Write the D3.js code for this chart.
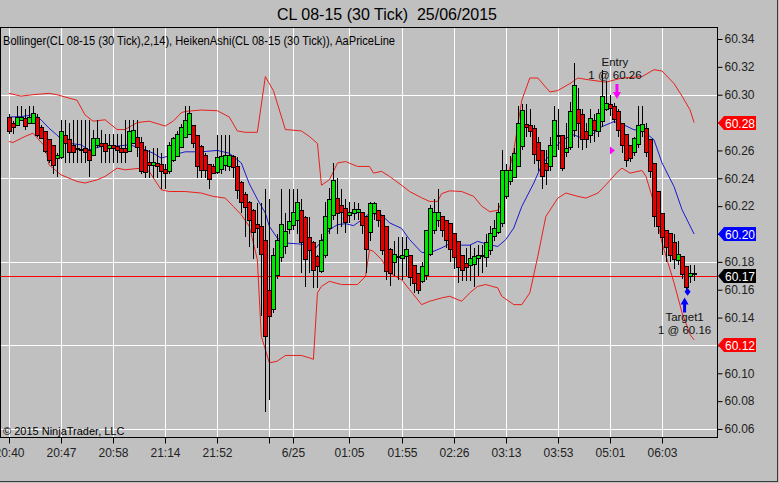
<!DOCTYPE html>
<html><head><meta charset="utf-8">
<script src="https://d3js.org/d3.v7.min.js"></script>
<style>
html,body{margin:0;padding:0;background:#c0c0c0;}
svg{display:block;}
text{font-family:"Liberation Sans Narrow","Arial Narrow","Liberation Sans",Arial,sans-serif;}
</style></head><body>
<svg id="chart" width="779" height="483"></svg>
<script>
// ---------- DATA ----------
const chartTitle = "CL 08-15 (30 Tick)  25/06/2015";
const indicatorLabel = "Bollinger(CL 08-15 (30 Tick),2,14), HeikenAshi(CL 08-15 (30 Tick)), AaPriceLine";
const copyright = "\u00A9 2015 NinjaTrader, LLC";

const barOpen = [
60.284,60.280,60.278,60.282,60.283,60.280,60.280,60.284,60.277,60.274,
60.268,60.264,60.255,60.255,60.271,60.268,60.264,60.262,60.261,60.262,
60.260,60.257,60.264,60.265,60.265,60.262,60.264,60.263,60.262,60.262,
60.260,60.266,60.270,60.266,60.260,60.252,60.250,60.251,60.250,60.247,
60.245,60.253,60.256,60.263,60.270,60.272,60.278,60.271,60.263,60.257,
60.250,60.249,60.244,60.247,60.250,60.249,60.256,60.249,60.237,60.229,
60.223,60.217,60.207,60.206,60.196,60.160,60.146,60.171,60.183,60.191,
60.203,60.207,60.210,60.217,60.212,60.198,60.194,60.184,60.174,60.185,
60.204,60.214,60.226,60.221,60.219,60.214,60.215,60.216,60.216,60.213,
60.201,60.215,60.217,60.214,60.206,60.189,60.180,60.184,60.183,60.184,
60.185,60.178,60.172,60.166,60.171,60.186,60.203,60.210,60.213,60.210,
60.208,60.201,60.195,60.185,60.179,60.178,60.178,60.183,60.184,60.183,
60.189,60.198,60.202,60.208,60.227,60.238,60.241,60.249,60.263,60.279,
60.278,60.276,60.266,60.260,60.251,60.249,60.256,60.270,60.271,60.259,
60.262,60.275,60.290,60.286,60.274,60.271,60.282,60.274,60.281,60.290,
60.293,60.292,60.288,60.280,60.272,60.264,60.259,60.264,60.274,60.276,
60.268,60.251,60.231,60.215,60.203,60.201,60.194,60.182,60.184,60.177,
60.170,60.171];
const barClose = [
60.274,60.277,60.284,60.284,60.277,60.284,60.287,60.271,60.269,60.260,
60.253,60.250,60.257,60.274,60.265,60.259,60.259,60.261,60.260,60.259,
60.253,60.269,60.269,60.263,60.259,60.264,60.262,60.260,60.259,60.259,
60.274,60.275,60.263,60.245,60.244,60.250,60.252,60.249,60.245,60.244,
60.264,60.269,60.272,60.277,60.282,60.287,60.265,60.249,60.246,60.246,
60.239,60.244,60.255,60.256,60.257,60.257,60.248,60.232,60.223,60.220,
60.210,60.201,60.204,60.186,60.127,60.141,60.185,60.196,60.207,60.202,
60.209,60.216,60.223,60.194,60.182,60.189,60.174,60.177,60.196,60.213,
60.225,60.239,60.215,60.216,60.209,60.216,60.218,60.218,60.207,60.189,
60.222,60.222,60.210,60.189,60.174,60.172,60.186,60.183,60.185,60.189,
60.169,60.165,60.160,60.177,60.203,60.219,60.216,60.216,60.203,60.196,
60.189,60.184,60.176,60.174,60.176,60.183,60.184,60.185,60.185,60.194,
60.201,60.204,60.216,60.246,60.246,60.246,60.258,60.280,60.289,60.277,
60.274,60.257,60.253,60.241,60.246,60.264,60.282,60.271,60.247,60.262,
60.288,60.307,60.280,60.268,60.268,60.283,60.275,60.287,60.299,60.294,
60.290,60.283,60.274,60.264,60.253,60.255,60.269,60.278,60.279,60.259,
60.245,60.213,60.206,60.198,60.191,60.185,60.182,60.186,60.171,60.162,
60.172,60.172];
const barHigh = [
60.286,60.281,60.292,60.292,60.290,60.292,60.292,60.286,60.278,60.274,
60.268,60.264,60.258,60.282,60.282,60.280,60.282,60.282,60.282,60.282,
60.282,60.275,60.282,60.275,60.272,60.272,60.272,60.272,60.272,60.282,
60.282,60.282,60.282,60.270,60.263,60.260,60.262,60.262,60.258,60.250,
60.266,60.270,60.274,60.279,60.292,60.292,60.278,60.271,60.264,60.258,
60.250,60.250,60.271,60.271,60.271,60.271,60.257,60.255,60.238,60.230,
60.224,60.218,60.222,60.222,60.232,60.225,60.190,60.200,60.232,60.215,
60.232,60.232,60.232,60.225,60.213,60.212,60.195,60.185,60.200,60.223,
60.233,60.251,60.240,60.232,60.225,60.223,60.223,60.222,60.216,60.213,
60.223,60.223,60.217,60.214,60.206,60.190,60.195,60.198,60.198,60.198,
60.185,60.178,60.172,60.180,60.203,60.221,60.225,60.232,60.213,60.210,
60.208,60.201,60.195,60.185,60.190,60.192,60.190,60.192,60.192,60.200,
60.206,60.210,60.222,60.260,60.250,60.256,60.262,60.292,60.293,60.293,
60.290,60.278,60.270,60.260,60.260,60.270,60.292,60.290,60.271,60.280,
60.295,60.323,60.305,60.290,60.280,60.290,60.286,60.290,60.318,60.310,
60.300,60.294,60.290,60.280,60.272,60.264,60.270,60.292,60.292,60.280,
60.268,60.251,60.231,60.215,60.203,60.201,60.200,60.195,60.184,60.177,
60.178,60.178];
const barLow = [
60.272,60.272,60.278,60.281,60.275,60.279,60.280,60.270,60.268,60.258,
60.251,60.243,60.241,60.254,60.251,60.251,60.251,60.251,60.251,60.251,
60.241,60.256,60.262,60.251,60.251,60.251,60.251,60.251,60.251,60.251,
60.259,60.265,60.255,60.243,60.240,60.240,60.240,60.240,60.232,60.232,
60.243,60.252,60.255,60.262,60.269,60.272,60.262,60.240,60.240,60.240,
60.232,60.243,60.243,60.243,60.245,60.245,60.240,60.225,60.215,60.198,
60.191,60.182,60.190,60.141,60.072,60.081,60.143,60.168,60.180,60.186,
60.200,60.203,60.200,60.172,60.162,60.172,60.161,60.161,60.172,60.183,
60.200,60.210,60.200,60.205,60.201,60.208,60.210,60.210,60.200,60.172,
60.195,60.210,60.205,60.185,60.167,60.163,60.170,60.167,60.167,60.170,
60.163,60.158,60.157,60.165,60.167,60.184,60.200,60.205,60.198,60.190,
60.180,60.175,60.165,60.166,60.166,60.166,60.162,60.170,60.172,60.176,
60.185,60.195,60.200,60.205,60.225,60.235,60.240,60.249,60.260,60.270,
60.270,60.250,60.245,60.232,60.235,60.245,60.255,60.260,60.245,60.255,
60.260,60.270,60.262,60.260,60.262,60.265,60.266,60.270,60.277,60.288,
60.285,60.280,60.270,60.258,60.248,60.252,60.256,60.262,60.270,60.255,
60.240,60.205,60.200,60.185,60.180,60.180,60.175,60.178,60.168,60.158,
60.165,60.166];

// Bollinger band vertices: [bar index, price]
const bbUpper = [[0,60.301],[3,60.299],[6,60.300],[10,60.301],[12,60.300],[17,60.296],[19,60.2855],[21,60.281],[24,60.282],[27,60.275],[29,60.275],[32,60.280],[35,60.281],[39,60.2775],[41,60.281],[43,60.287],[44,60.288],[48,60.289],[52,60.2885],[55,60.284],[57,60.274],[59,60.273],[62,60.273],[64,60.313],[66,60.303],[69,60.275],[73,60.274],[75,60.270],[77,60.265],[78,60.235],[80,60.239],[82,60.251],[84,60.252],[87,60.2485],[90,60.2485],[91,60.2437],[93,60.245],[95,60.2413],[98,60.235],[100,60.2305],[103,60.226],[105,60.2234],[107,60.2234],[108,60.229],[110,60.231],[113,60.2305],[116,60.227],[118,60.220],[120,60.216],[122,60.217],[123,60.223],[126,60.260],[128,60.296],[130,60.312],[132,60.312],[135,60.302],[137,60.303],[140,60.308],[142,60.312],[144,60.311],[149,60.309],[153,60.312],[158,60.313],[161,60.318],[163,60.317],[166,60.308],[168,60.299],[170,60.289],[171,60.280]];
const bbMiddle = [[0,60.284],[3,60.2843],[6,60.2855],[8,60.282],[10,60.276],[12,60.271],[14,60.2655],[18,60.264],[20,60.2604],[23,60.2628],[26,60.2628],[30,60.264],[33,60.2617],[36,60.258],[38,60.2545],[41,60.2568],[44,60.259],[48,60.259],[52,60.260],[55,60.258],[58,60.251],[60,60.236],[62,60.225],[64,60.215],[65,60.2055],[67,60.197],[69,60.1935],[72,60.193],[75,60.192],[76,60.188],[78,60.1947],[80,60.203],[82,60.2067],[84,60.2074],[86,60.206],[88,60.210],[90,60.215],[93,60.2138],[95,60.208],[98,60.204],[100,60.196],[103,60.1868],[105,60.1864],[108,60.190],[110,60.193],[113,60.192],[115,60.192],[117,60.1947],[119,60.193],[122,60.191],[124,60.196],[126,60.2043],[128,60.2198],[131,60.2366],[133,60.2497],[136,60.2604],[138,60.2676],[141,60.2712],[143,60.2688],[146,60.2724],[148,60.2771],[151,60.2807],[153,60.279],[156,60.2748],[158,60.2748],[161,60.2676],[163,60.251],[166,60.234],[168,60.2174],[171,60.200]];
const bbLower = [[0,60.2664],[1,60.2657],[4,60.270],[6,60.2724],[9,60.2628],[10,60.2497],[13,60.2425],[17,60.2377],[19,60.2366],[22,60.2389],[24,60.2413],[27,60.2473],[29,60.2461],[33,60.2473],[35,60.2449],[38,60.2318],[40,60.2305],[44,60.2305],[48,60.2294],[51,60.227],[54,60.2258],[56,60.2198],[58,60.2138],[60,60.2055],[62,60.1816],[63,60.1266],[65,60.1075],[67,60.1087],[69,60.1128],[73,60.1128],[75,60.1111],[76,60.110],[77,60.1577],[78,60.1624],[80,60.166],[83,60.1637],[87,60.1637],[89,60.1696],[90,60.1887],[91,60.1875],[93,60.1816],[95,60.172],[98,60.1672],[100,60.1601],[103,60.1493],[105,60.1517],[108,60.1541],[110,60.1553],[113,60.1517],[115,60.1577],[117,60.1624],[119,60.1637],[122,60.1613],[123,60.1553],[126,60.1493],[128,60.1493],[130,60.1577],[132,60.184],[134,60.2126],[137,60.2258],[139,60.2294],[142,60.227],[144,60.2258],[147,60.2294],[149,60.2353],[152,60.2449],[153,60.2473],[155,60.2437],[158,60.2456],[159,60.2413],[161,60.2222],[163,60.1935],[166,60.1649],[168,60.1434],[170,60.1278],[171,60.124]];

const priceLineValue = 60.17;
const yTicks = [60.06,60.08,60.10,60.12,60.14,60.16,60.18,60.20,60.22,60.24,60.26,60.28,60.30,60.32,60.34];
const yGrid = [60.06,60.12,60.18,60.24,60.30];
const xTickBars = [0,13,26,39,52,65,71,85,98,111,124,137,150,163];
const xTickLabels = ["20:40","20:47","20:58","21:14","21:52","","6/25","01:05","01:55","02:26","03:13","03:53","05:01","06:03"];
const tagValues = [60.28, 60.20, 60.17, 60.12];
const tagKinds = ["upper","middle","price","lower"];

const entryBar = 151, entryPrice = 60.26, entryText = ["Entry","1 @ 60.26"];
const targetBar = 169, targetPrice = 60.16, targetText = ["Target1","1 @ 60.16"];

// ---------- LAYOUT ----------
const W = 779, H = 483;
const plot = {left:0, right:717, top:27, bottom:437};
const svg = d3.select("#chart");

const x = d3.scaleLinear().domain([0, 171]).range([8.9, 8.9 + 171*4.007]);
const y = d3.scaleLinear().domain([60.06, 60.34]).range([429, 39]);

svg.append("rect").attr("width",W).attr("height",H).attr("fill","#c0c0c0");

// title
svg.append("text").attr("x",387).attr("y",20).attr("text-anchor","middle")
  .style("white-space","pre").attr("font-size",17).attr("fill","#000")
  .attr("textLength",220).attr("lengthAdjust","spacingAndGlyphs")
  .text(chartTitle);

const clipId = "plotclip";
svg.append("clipPath").attr("id",clipId).append("rect")
  .attr("x",plot.left+1).attr("y",plot.top+1).attr("width",plot.right-plot.left-1).attr("height",plot.bottom-plot.top-1);
const g = svg.append("g").attr("clip-path",`url(#${clipId})`);

// grid
g.selectAll("line.hg").data(yGrid).join("line")
  .attr("x1",plot.left).attr("x2",plot.right)
  .attr("y1",d=>Math.round(y(d))+0.5).attr("y2",d=>Math.round(y(d))+0.5)
  .attr("stroke","#ffffff").attr("stroke-width",1);
g.selectAll("line.vg").data(xTickBars).join("line")
  .attr("x1",d=>Math.round(x(d))+0.5).attr("x2",d=>Math.round(x(d))+0.5)
  .attr("y1",plot.top).attr("y2",plot.bottom)
  .attr("stroke","#ffffff").attr("stroke-width",1);

// bands
const bandLine = d3.line().x(d=>x(d[0])).y(d=>y(d[1]));
g.append("path").attr("d",bandLine(bbUpper)).attr("fill","none").attr("stroke","#e8201c").attr("stroke-width",1);
g.append("path").attr("d",bandLine(bbLower)).attr("fill","none").attr("stroke","#e8201c").attr("stroke-width",1);
g.append("path").attr("d",bandLine(bbMiddle)).attr("fill","none").attr("stroke","#1a1ad0").attr("stroke-width",1);

// price line
g.append("line").attr("x1",plot.left).attr("x2",plot.right)
  .attr("y1",Math.round(y(priceLineValue))+0.5).attr("y2",Math.round(y(priceLineValue))+0.5)
  .attr("stroke","#ff0000").attr("stroke-width",1);

// candles
const bars = d3.range(barOpen.length).map(i=>({i,o:barOpen[i],c:barClose[i],h:barHigh[i],l:barLow[i]}));
const cg = g.append("g").attr("shape-rendering","crispEdges");
cg.selectAll("line.wick").data(bars).join("line")
  .attr("x1",d=>Math.round(x(d.i))+0.5).attr("x2",d=>Math.round(x(d.i))+0.5)
  .attr("y1",d=>y(d.h)).attr("y2",d=>y(d.l))
  .attr("stroke","#000").attr("stroke-width",1);
cg.selectAll("rect.body").data(bars).join("rect")
  .attr("x",d=>Math.round(x(d.i))-1.5)
  .attr("width",4)
  .attr("y",d=>Math.round(y(Math.max(d.o,d.c)))+0.5)
  .attr("height",d=>Math.max(1, Math.round(Math.abs(y(d.o)-y(d.c)))))
  .attr("fill",d=>d.c>=d.o?"#00e600":"#e60000")
  .attr("stroke","#000").attr("stroke-width",1);

// entry markers
const ex = x(entryBar)+3, eyTip = y(barHigh[entryBar])-4;
g.append("path").attr("fill","#ff00ff")
  .attr("d",`M${ex-1.5},${eyTip-15} L${ex+1.5},${eyTip-15} L${ex+1.5},${eyTip-7} L${ex+4},${eyTip-7} L${ex},${eyTip} L${ex-4},${eyTip-7} L${ex-1.5},${eyTip-7} Z`);
const tx = x(entryBar)-1, ty = y(entryPrice);
g.append("path").attr("fill","#ff00ff").attr("d",`M${tx-3},${ty-4} L${tx+2},${ty} L${tx-3},${ty+4} Z`);
svg.append("text").attr("x",x(entryBar)+1).attr("y",66).attr("text-anchor","middle").attr("font-size",11.5).attr("fill","#111").text(entryText[0]);
svg.append("text").attr("x",x(entryBar)+1).attr("y",79).attr("text-anchor","middle").attr("font-size",11.5).attr("fill","#111").text(entryText[1]);

// target markers
const bx = x(targetBar)-1.5, byTip = y(barLow[targetBar])+5;
g.append("path").attr("fill","#0000ff")
  .attr("d",`M${bx},${byTip} L${bx+4},${byTip+7} L${bx+1.5},${byTip+7} L${bx+1.5},${byTip+15} L${bx-1.5},${byTip+15} L${bx-1.5},${byTip+7} L${bx-4},${byTip+7} Z`);
const dx = x(targetBar)+1.5, dy = y(targetPrice)+2;
g.append("path").attr("fill","#0000ff").attr("d",`M${dx},${dy-4} L${dx+3},${dy} L${dx},${dy+4} L${dx-3},${dy} Z`);
svg.append("text").attr("x",x(targetBar)-1.5).attr("y",321).attr("text-anchor","middle").attr("font-size",11.5).attr("fill","#111").text(targetText[0]);
svg.append("text").attr("x",x(targetBar)-1.5).attr("y",334).attr("text-anchor","middle").attr("font-size",11.5).attr("fill","#111").text(targetText[1]);

// indicator label & copyright
svg.append("text").attr("x",3).attr("y",45).attr("font-size",12).attr("fill","#000")
  .attr("textLength",392).attr("lengthAdjust","spacingAndGlyphs").text(indicatorLabel);
svg.append("text").attr("x",3).attr("y",435).attr("font-size",11).attr("fill","#000").text(copyright);

// plot frame
svg.append("rect").attr("x",plot.left+0.5).attr("y",plot.top+0.5)
  .attr("width",plot.right-plot.left).attr("height",plot.bottom-plot.top)
  .attr("fill","none").attr("stroke","#000").attr("stroke-width",1);

// y axis
const yAxis = d3.axisRight(y).tickValues(yTicks).tickSize(5).tickPadding(2).tickFormat(d=>d.toFixed(2));
const ya = svg.append("g").attr("transform",`translate(${plot.right+0.5},0)`).call(yAxis);
ya.select(".domain").remove();
ya.selectAll("text").attr("font-size",12).attr("fill","#222").style("font-family",null);
ya.selectAll("line").attr("stroke","#000");

// x axis
const xAxis = d3.axisBottom(x).tickValues(xTickBars).tickSize(6).tickPadding(5)
  .tickFormat((d,i)=>xTickLabels[i]);
const xa = svg.append("g").attr("transform",`translate(0,${plot.bottom+0.5})`).call(xAxis);
xa.select(".domain").remove();
xa.selectAll("text").attr("font-size",12).attr("fill","#222");
xa.selectAll(".tick").attr("transform",d=>`translate(${Math.round(x(d))+0.5},0)`);
xa.selectAll("line").attr("stroke","#000");

// right-axis value tags
const tagColor = {upper:"#ff0000", middle:"#0000ff", price:"#000000", lower:"#ff0000"};
tagValues.forEach((v,k)=>{
  const yc = Math.round(y(v));
  const tg = svg.append("g");
  tg.append("path").attr("fill",tagColor[tagKinds[k]])
    .attr("d",`M${plot.right+1},${yc} L${plot.right+7},${yc-7} L${plot.right+39},${yc-7} L${plot.right+39},${yc+7} L${plot.right+7},${yc+7} Z`);
  tg.append("text").attr("x",plot.right+8).attr("y",yc+4.5).attr("font-size",12).attr("fill","#fff").text(v.toFixed(2));
});

// outer frame (right & bottom)
svg.append("line").attr("x1",777.5).attr("x2",777.5).attr("y1",0).attr("y2",482).attr("stroke","#3a3a3a");
svg.append("line").attr("x1",0).attr("x2",778).attr("y1",481.5).attr("y2",481.5).attr("stroke","#3a3a3a");
</script>
</body></html>
